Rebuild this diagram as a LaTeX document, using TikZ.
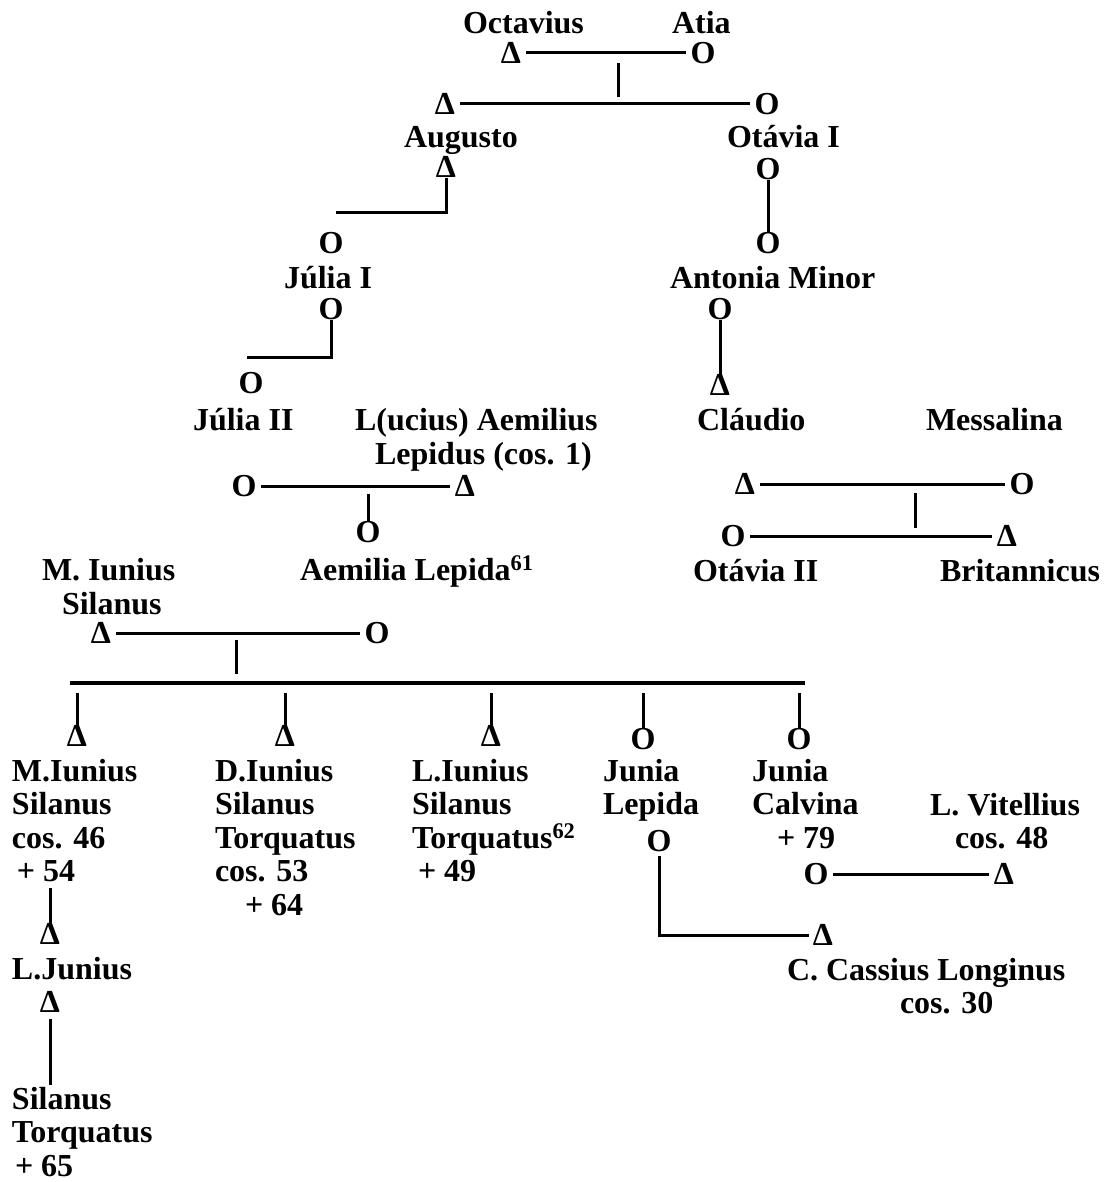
\documentclass[tikz,border=0pt]{standalone}
\usepackage{fontspec}
\setmainfont{Liberation Serif}
\begin{document}
\begin{tikzpicture}[x=1pt,y=-1pt,
  every node/.style={font=\fontsize{32}{33.5}\selectfont\bfseries, inner sep=0pt, outer sep=0pt},
  txt/.style={anchor=base west, align=left},
  sym/.style={anchor=center},
  ln/.style={line width=3pt},
  thick ln/.style={line width=3.8pt},
  mar/.style={shorten <=5pt, shorten >=5pt},
]
\useasboundingbox[fill=white] (0,0) rectangle (1104,1182);

% ---------- top generation ----------
\node[txt] (toct) at (463,34) {Octavius};
\node[txt] (tatia) at (672,34) {Atia};
\node[sym] (octD) at (511,53) {Δ};
\node[sym] (atiaO) at (703,53) {O};
\draw[ln,mar] (octD) -- (atiaO);
\coordinate (v1a) at (618,63);
\coordinate (v1b) at (618,97);
\draw[ln] (v1a) -- (v1b);

\node[sym] (augD) at (445,104) {Δ};
\node[sym] (otaO) at (767,104) {O};
\draw[ln,mar] (augD) -- (otaO);
\node[txt] (taug) at (404,148) {Augusto};
\node[txt] (tota) at (727,148) {Otávia I};

\node[sym] (augD2) at (446,167) {Δ};
\coordinate (c1) at (336,213);
\draw[ln] (augD2.south) |- (c1);

\node[sym] (ota2) at (768,169) {O};
\node[sym] (ant1) at (768,243) {O};
\draw[ln] (ota2.south) -- (ant1.north);

\node[sym] (jul1a) at (331,243) {O};
\node[txt] (tjul1) at (284,288) {Júlia I};
\node[sym] (jul1b) at (331,309) {O};
\coordinate (c2) at (247,357);
\draw[ln] (jul1b.south) |- (c2);

\node[txt] (tant) at (670,288) {Antonia Minor};
\node[sym] (ant2) at (720,309) {O};
\node[sym] (claD) at (720,385) {Δ};
\draw[ln] (ant2.south) -- (claD.north);

\node[sym] (jul2) at (251,383) {O};
\node[txt] (tjul2) at (193,430) {Júlia II};
\node[txt] (tlep1) at (355,430) {L(ucius) Aemilius};
\node[txt] (tlep2) at (375,464) {Lepidus (cos. 1)};
\node[txt] (tcla) at (697,430) {Cláudio};
\node[txt] (tmes) at (926,430) {Messalina};

\node[sym] (jul2b) at (244,486) {O};
\node[sym] (lepD) at (465,486) {Δ};
\draw[ln,mar] (jul2b) -- (lepD);
\coordinate (v2) at (368,494);
\node[sym] (aemO) at (368,532) {O};
\draw[ln] (v2) -- (aemO.north);
\node[txt] (taem) at (300,580) {Aemilia Lepida\textsuperscript{61}};

\node[sym] (claB) at (745,484) {Δ};
\node[sym] (mesO) at (1022,484) {O};
\draw[ln,mar] (claB) -- (mesO);
\coordinate (v3a) at (915,493);
\coordinate (v3b) at (915,528);
\draw[ln] (v3a) -- (v3b);
\node[sym] (ot2O) at (733,536) {O};
\node[sym] (briD) at (1007,536) {Δ};
\draw[ln,mar] (ot2O) -- (briD);
\node[txt] (tot2) at (693,581) {Otávia II};
\node[txt] (tbri) at (940,581) {Britannicus};

% ---------- Silanus family ----------
\node[txt] (tsil) at (42,614) {M. Iunius\\\hspace*{20pt}Silanus};
\node[sym] (silD) at (101,633) {Δ};
\node[sym] (silwO) at (377,633) {O};
\draw[ln,mar] (silD) -- (silwO);
\coordinate (v4a) at (236,640);
\coordinate (v4b) at (236,674);
\draw[ln] (v4a) -- (v4b);
\coordinate (bl) at (70,683);
\coordinate (br) at (805,683);
\draw[thick ln] (bl) -- (br);

\node[sym] (k1) at (77,736) {Δ};
\node[sym] (k2) at (285,736) {Δ};
\node[sym] (k3) at (491,736) {Δ};
\node[sym] (k4) at (643,739) {O};
\node[sym] (k5) at (799,739) {O};
\foreach \k/\x in {k1/77,k2/285,k3/491,k4/643,k5/799}{
  \coordinate (d\k) at (\x,693);
  \draw[ln] (d\k) -- (\k.north);
}

\node[txt] (tk1) at (12,881.5) {M.Iunius\\Silanus\\cos. 46\\\hspace*{5pt}+ 54};
\node[txt] (tk2) at (215,915) {D.Iunius\\Silanus\\Torquatus\\cos. 53\\\hspace*{30pt}+ 64};
\node[txt] (tk3) at (412,881.5) {L.Iunius\\Silanus\\Torquatus\textsuperscript{62}\\\hspace*{6pt}+ 49};
\node[txt] (tk4) at (603,814.5) {Junia\\Lepida};
\node[txt] (tk5) at (752,848) {Junia\\Calvina\\\hspace*{25pt}+ 79};

\coordinate (v5) at (50,888);
\node[sym] (ljD) at (50,934) {Δ};
\draw[ln] (v5) -- (ljD.north);
\node[txt] (tlj) at (12,979) {L.Junius};
\node[sym] (ljD2) at (50,1002) {Δ};
\coordinate (v6) at (50,1085);
\draw[ln] ([yshift=-6pt]ljD2.south) -- (v6);
\node[txt] (tst) at (12,1176) {Silanus\\Torquatus\\\hspace*{3pt}+ 65};

\node[sym] (lepO) at (659,841) {O};
\node[sym] (cassD) at (823,935) {Δ};
\draw[ln,shorten <=4pt,shorten >=4pt] (lepO.south) |- (cassD.west);
\node[txt] (tcass) at (787,1013.5) {C. Cassius Longinus\\\hspace*{113pt}cos. 30};

\node[txt] (tvit) at (930,848.5) {L. Vitellius\\\hspace*{25pt}cos. 48};
\node[sym] (calvO) at (816,874) {O};
\node[sym] (vitD) at (1004,874) {Δ};
\draw[ln,mar] (calvO) -- (vitD);
\end{tikzpicture}
\end{document}
